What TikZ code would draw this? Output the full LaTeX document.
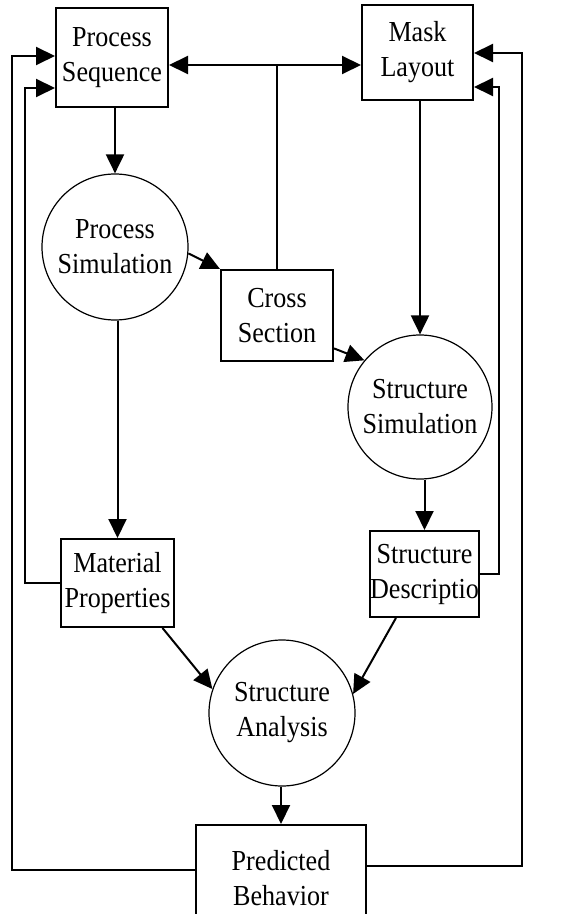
\documentclass[tikz,border=0pt]{standalone}
\usepackage{fontspec}
\setmainfont[FakeStretch=0.9]{Liberation Serif}
\usetikzlibrary{calc,positioning,arrows.meta}

\begin{document}
\begin{tikzpicture}[x=0.5pt, y=-0.5pt]
\tikzstyle{box}=[rectangle, draw, line width=1pt, inner sep=0pt, align=center,
                 font=\fontsize{14.5}{17.5}\selectfont]
\tikzstyle{blob}=[circle, draw, line width=0.6pt, inner sep=0pt, align=center,
                  minimum size=73pt, font=\fontsize{14.5}{17.5}\selectfont]
\tikzstyle{arr}=[line width=1pt, -{Triangle[length=9.5pt, width=9pt]}]
\clip (0,0) rectangle (565,914);
\useasboundingbox (0,0) rectangle (565,914);
% boxes
\node[box, minimum width=56pt, minimum height=49.5pt] (PS) at (112,57.5) {Process\\Sequence};
\node[box, minimum width=55.5pt, minimum height=47.5pt] (ML) at (417.5,52.5) {Mask\\Layout};
\node[box, minimum width=56pt, minimum height=45.5pt] (CS) at (277,315.5) {Cross\\Section};
\node[box, minimum width=56.5pt, minimum height=44pt] (MP) at (117.5,583) {Material\\Properties};
\node[box, minimum width=53.5pt, minimum height=43pt] (SD) at (424.5,574) {Structure\\Descriptio};
\node[box, minimum width=85pt, minimum height=53pt] (PB) at (281,878) {Predicted\\Behavior};
% circles
\node[blob] (PSim) at (115,247) {Process\\Simulation};
\node[blob, minimum size=72pt] (SSim) at (420,407) {Structure\\Simulation};
\node[blob] (SA) at (282,713) {Structure\\Analysis};
% links
\coordinate (J) at (CS.north |- 0,65);
\draw[arr] (J) -- (J -| PS.east);
\draw[arr] (J) -- (J -| ML.west);
\draw[line width=1pt] (J) -- (CS.north);
\foreach \i/\j in {PS/PSim, ML/SSim, PSim/MP, SSim/SD, SA/PB}{\draw[arr] (\j.north |- \i.south) -- (\j.north);}
\draw[arr] (PSim.-5) -- (CS.north west);
\draw[arr] (CS.-30) -- (SSim.140);
\draw[arr] (MP.-45) -- (SA.161);
\draw[arr] (SD.-123) -- (SA.15);
% feedback
\coordinate (iL) at (25,88);
\coordinate (oL) at (12,56);
\coordinate (iR) at (499,87);
\coordinate (oR) at (522,53);
\draw[arr] (MP.west) -| (iL) -- (iL -| PS.west);
\draw[arr] ($(PB.west)+(0,-8)$) -| (oL) -- (oL -| PS.west);
\draw[arr] (SD.east) -| (iR) -- (iR -| ML.east);
\draw[arr] ($(PB.east)+(0,-12)$) -| (oR) -- (oR -| ML.east);
\end{tikzpicture}
\end{document}
